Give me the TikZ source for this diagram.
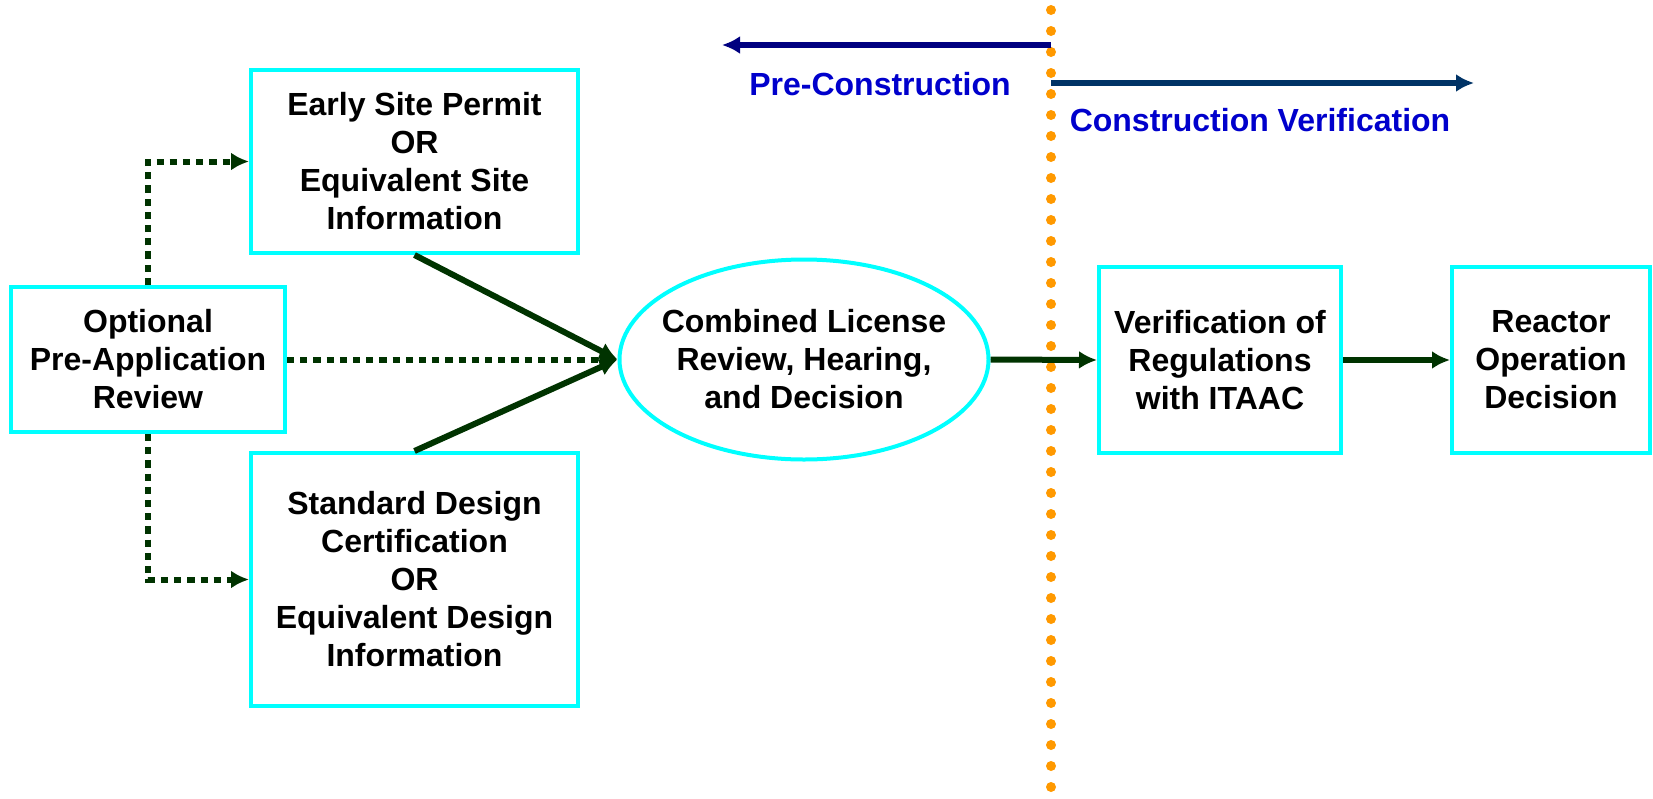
\documentclass[tikz,border=0pt]{standalone}
\usepackage{fontspec}
\setmainfont{Liberation Sans}
\usetikzlibrary{arrows.meta,shapes.geometric}
\definecolor{boxcyan}{RGB}{0,255,255}
\definecolor{flowgreen}{RGB}{0,51,0}
\definecolor{lineorange}{RGB}{255,153,0}
\definecolor{prenavy}{RGB}{0,0,128}
\definecolor{connavy}{RGB}{0,51,102}
\definecolor{labelblue}{RGB}{0,0,204}

\begin{document}
\begin{tikzpicture}[x=0.5pt,y=-0.5pt,
  >={Latex[length=9pt,width=9pt]},
  stage/.style={draw=boxcyan,line width=2pt,align=center,inner sep=0pt,
    font=\fontsize{16}{19}\selectfont\bfseries},
  solidflow/.style={->,draw=flowgreen,line width=3pt},
  dotflow/.style={->,draw=flowgreen,line width=3pt,dash pattern=on 3.6pt off 3pt},
  phase/.style={->,line width=3pt,>={Latex[length=9pt,width=9pt]}},
  phaselabel/.style={text=labelblue,font=\fontsize{16}{19}\selectfont\bfseries}]
\useasboundingbox (0,0) rectangle (1653,798);

% Divider between the two phases
  \coordinate (divtop) at (1051,10);
  \coordinate (divbot) at (1051,793);
  \draw[lineorange,line width=5pt,line cap=round,dash pattern=on 0pt off 10.5pt]
    (divtop) -- (divbot);

% Phase arrows and labels
  \coordinate (prestart) at (1051,45);
  \coordinate (preend) at (722,45);
  \coordinate (constart) at (1051,83);
  \coordinate (conend) at (1474,83);
  \draw[phase,prenavy] (prestart) -- (preend);
  \draw[phase,connavy] (constart) -- (conend);
  \node[phaselabel] (prelabel) at (880,84) {Pre-Construction};
  \node[phaselabel] (conlabel) at (1260,120) {Construction Verification};

% Stages
  \node[stage,minimum width=137pt,minimum height=72.5pt] (optional) at (148,359.5)
    {Optional\\Pre-Application\\Review};
  \node[stage,minimum width=163.5pt,minimum height=91.5pt] (site) at (414.5,161.5)
    {Early Site Permit\\OR\\Equivalent Site\\Information};
  \node[stage,minimum width=163.5pt,minimum height=126.5pt] (design) at (414.5,579.5)
    {Standard Design\\Certification\\OR\\Equivalent Design\\Information};
  \node[stage,ellipse,inner xsep=-10pt,minimum width=184.5pt,minimum height=100pt] (combined)
    at (804,359.5) {Combined License\\Review, Hearing,\\and Decision};
  \node[stage,minimum width=121pt,minimum height=93pt] (verify) at (1220,360)
    {Verification of\\Regulations\\with ITAAC};
  \node[stage,minimum width=99pt,minimum height=93pt] (reactor) at (1551,360)
    {Reactor\\Operation\\Decision};

% Connectors
  \draw[dotflow] (optional.north) |- (site.west);
  \draw[dotflow] (optional.south) |- (design.west);
  \draw[dotflow] (optional.east) -- (combined.west);
  \draw[solidflow] (site.south) -- (combined.west);
  \draw[solidflow] (design.north) -- (combined.west);
  \draw[solidflow] (combined.east) -- (verify.west);
  \draw[solidflow] (verify.east) -- (reactor.west);
\end{tikzpicture}
\end{document}
